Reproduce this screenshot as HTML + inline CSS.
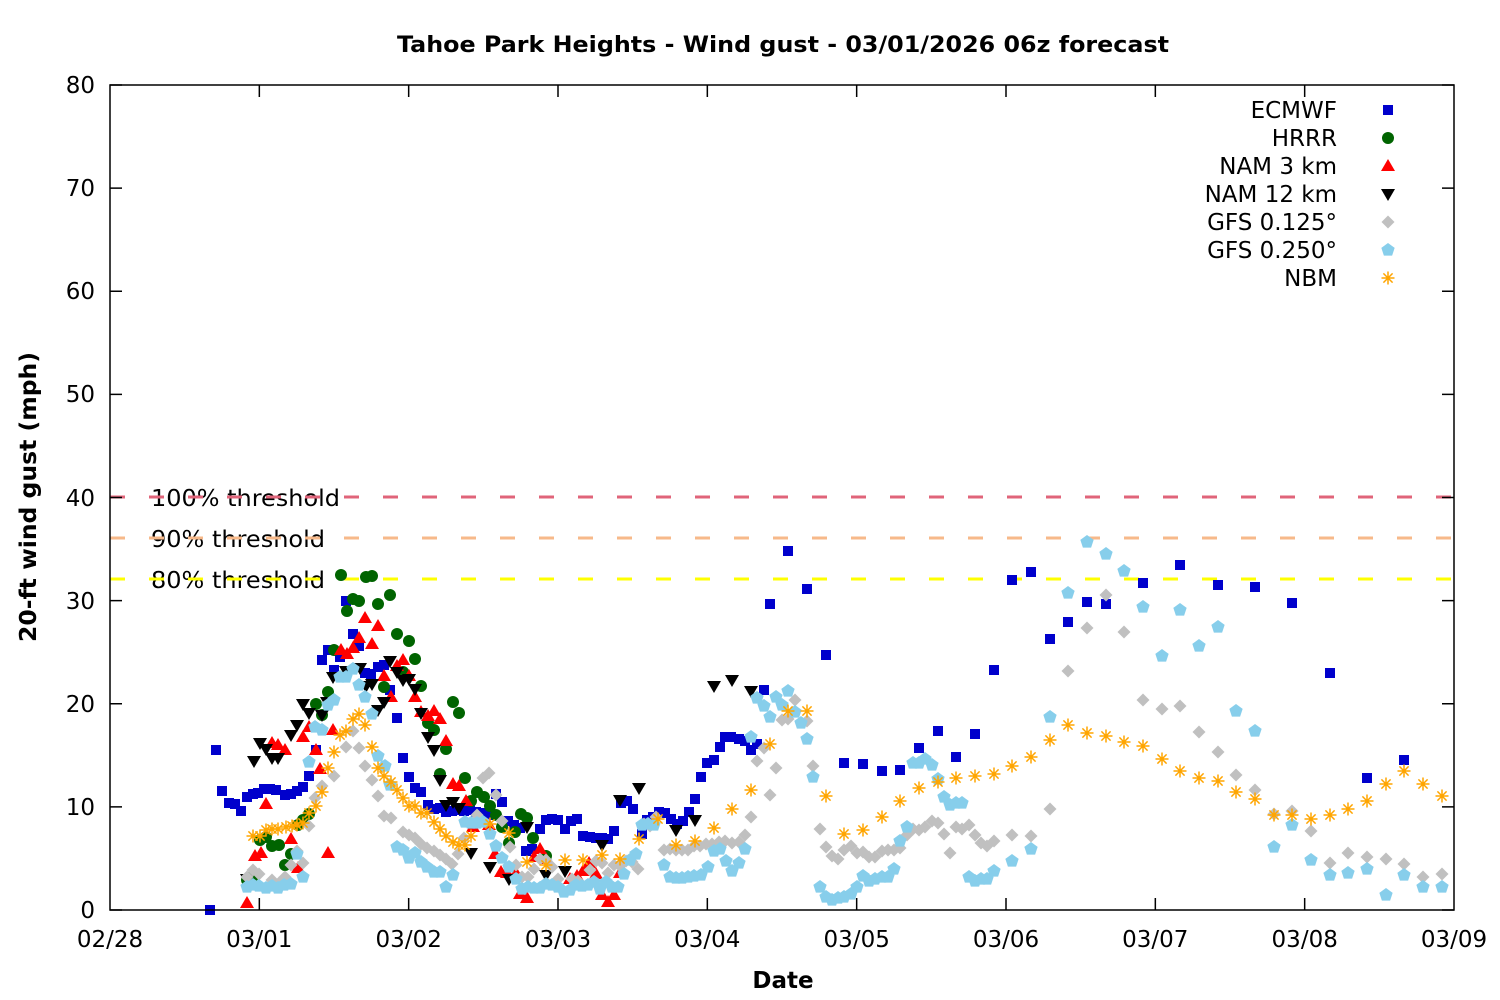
<!DOCTYPE html>
<html><head><meta charset="utf-8"><style>
html,body{margin:0;padding:0;background:#fff;}
svg{display:block;}
text{font-family:"DejaVu Sans","Liberation Sans",sans-serif;}
</style></head><body>
<svg id="c" width="1500" height="1000" viewBox="0 0 1500 1000" xmlns="http://www.w3.org/2000/svg">
<rect x="0" y="0" width="1500" height="1000" fill="#fff"/>
<text x="783" y="52" font-size="22" font-weight="bold" text-anchor="middle" textLength="772" lengthAdjust="spacingAndGlyphs">Tahoe Park Heights - Wind gust - 03/01/2026 06z forecast</text>
<text transform="translate(36,497) rotate(-90)" font-size="23" font-weight="bold" text-anchor="middle" textLength="290" lengthAdjust="spacingAndGlyphs">20-ft wind gust (mph)</text>
<text x="783" y="988" font-size="23" font-weight="bold" text-anchor="middle">Date</text>
<g font-size="23" text-anchor="end" fill="#000">
<text x="95" y="918">0</text>
<text x="95" y="815">10</text>
<text x="95" y="712">20</text>
<text x="95" y="609">30</text>
<text x="95" y="506">40</text>
<text x="95" y="402">50</text>
<text x="95" y="299">60</text>
<text x="95" y="196">70</text>
<text x="95" y="93">80</text>
</g>
<g font-size="23" text-anchor="middle" fill="#000">
<text x="110" y="947">02/28</text>
<text x="259.3" y="947">03/01</text>
<text x="408.7" y="947">03/02</text>
<text x="558" y="947">03/03</text>
<text x="707.3" y="947">03/04</text>
<text x="856.7" y="947">03/05</text>
<text x="1006" y="947">03/06</text>
<text x="1155.3" y="947">03/07</text>
<text x="1304.7" y="947">03/08</text>
<text x="1454" y="947">03/09</text>
</g>
<g font-size="23" fill="#000">
<text x="151" y="506" textLength="189" lengthAdjust="spacingAndGlyphs">100% threshold</text>
<text x="151" y="547" textLength="174" lengthAdjust="spacingAndGlyphs">90% threshold</text>
<text x="151" y="588" textLength="174" lengthAdjust="spacingAndGlyphs">80% threshold</text>
</g>
<g stroke-width="3" stroke-dasharray="15 24" fill="none">
<line x1="110" y1="497" x2="1454" y2="497" stroke="#e0647a"/>
<line x1="110" y1="538" x2="1454" y2="538" stroke="#f7b98a"/>
<line x1="110" y1="579" x2="1454" y2="579" stroke="#ffff00"/>
</g>
<g id="ticks" stroke="#000" stroke-width="1.5"></g>
<g id="pts"></g>
<rect x="110" y="85" width="1344" height="825" fill="none" stroke="#000" stroke-width="1.5"/>
<g font-size="23" text-anchor="end" fill="#000">
<text x="1337" y="118">ECMWF</text>
<text x="1337" y="146">HRRR</text>
<text x="1337" y="174">NAM 3 km</text>
<text x="1337" y="202">NAM 12 km</text>
<text x="1337" y="230">GFS 0.125°</text>
<text x="1337" y="258">GFS 0.250°</text>
<text x="1337" y="286">NBM</text>
</g>
<g id="leg"></g>
</svg>
<script>
(function(){
var t='';
for(var i=0;i<=8;i++){var y=910-i*103.125;t+='<line x1="110" y1="'+y+'" x2="122" y2="'+y+'"/><line x1="1442" y1="'+y+'" x2="1454" y2="'+y+'"/>';}
for(var d=1;d<=8;d++){var x=110+d*149.333;t+='<line x1="'+x+'" y1="910" x2="'+x+'" y2="898"/><line x1="'+x+'" y1="85" x2="'+x+'" y2="97"/>';}
document.getElementById('ticks').innerHTML=t;

function P(s){var a=s.trim().split(/\s+/),r=[];for(var i=0;i<a.length;i++){var p=a[i].split(',');r.push([+p[0],+p[1]]);}return r;}
function sq(x,y){return '<rect x="'+(x-5)+'" y="'+(y-5)+'" width="10" height="10"/>';}
function ci(x,y){return '<circle cx="'+x+'" cy="'+y+'" r="6"/>';}
function tu(x,y){return '<polygon points="'+x+','+(y-7)+' '+(x-7)+','+(y+5)+' '+(x+7)+','+(y+5)+'"/>';}
function td(x,y){return '<polygon points="'+x+','+(y+7)+' '+(x-7)+','+(y-5)+' '+(x+7)+','+(y-5)+'"/>';}
function di(x,y){return '<polygon points="'+x+','+(y-6.5)+' '+(x+6.5)+','+y+' '+x+','+(y+6.5)+' '+(x-6.5)+','+y+'"/>';}
function pe(x,y){var s='';for(var k=0;k<5;k++){var a=(-90+k*72)*Math.PI/180;s+=(x+7*Math.cos(a)).toFixed(2)+','+(y+7*Math.sin(a)).toFixed(2)+' ';}return '<polygon points="'+s+'"/>';}
function as(x,y){var r=6.5,q=4.6;return '<path d="M'+(x-r)+' '+y+'H'+(x+r)+'M'+x+' '+(y-r)+'V'+(y+r)+'M'+(x-q)+' '+(y-q)+'L'+(x+q)+' '+(y+q)+'M'+(x-q)+' '+(y+q)+'L'+(x+q)+' '+(y-q)+'"/>';}

var S=[
{f:sq,g:'fill="#0000cc"',d:"210,910 216,750 222,791 229,803 235,804 241,811 247,797 253,794 258,793 264,789 270,789 276,790 285,795 291,794 297,791 303,787 309,776 316,750 322,660 328,650 334,670 340,657 346,601 353,634 359,646 365,673 371,674 378,667 384,665 390,690 397,718 403,758 409,777 415,788 421,792 428,805 434,809 440,808 446,812 452,811 458,810 464,811 470,810 476,812 482,813 488,815 496,794 502,802 508,821 514,825 520,828 526,851 532,849 540,829 546,820 552,819 558,820 565,829 571,821 577,819 583,836 590,837 596,838 602,838 608,839 614,831 621,803 627,801 633,809 642,834 647,820 653,817 659,812 665,813 671,819 677,824 683,821 689,812 695,799 701,777 707,763 714,760 720,747 725,737 731,737 739,739 745,741 751,750 757,744 764,690 770,604 788,551 807,589 826,655 844,763 863,764 882,771 900,770 919,748 938,731 956,757 975,734 994,670 1012,580 1031,572 1050,639 1068,622 1087,602 1106,604 1143,583 1180,565 1218,585 1255,587 1292,603 1330,673 1367,778 1404,760"},
{f:ci,g:'fill="#006400"',d:"247,880 253,876 260,840 266,837 272,846 279,845 285,865 291,854 298,825 303,820 309,814 316,704 322,715 328,692 334,650 341,575 347,611 353,599 359,601 366,577 372,576 378,604 384,687 390,595 397,634 403,672 409,641 415,659 421,686 428,723 434,730 440,774 446,749 453,702 459,713 465,778 471,801 477,792 484,797 490,806 496,815 502,827 509,843 515,832 521,814 527,818 533,838 546,856"},
{f:tu,g:'fill="#ff0000"',d:"247,903 255,856 261,853 266,804 272,743 278,745 285,750 291,839 298,868 303,737 309,727 316,750 320,769 328,853 333,730 341,650 347,654 353,648 359,638 365,618 372,644 378,626 384,676 391,697 397,666 403,660 409,676 415,697 421,712 428,716 434,711 440,719 446,741 453,784 459,786 466,801 473,827 489,825 495,854 501,872 507,873 516,873 520,894 527,898 534,857 540,849 546,859 570,879 577,876 583,871 589,863 596,874 602,895 608,902 614,895 620,873"},
{f:td,g:'fill="#000000"',d:"247,879 254,761 260,743 266,749 272,758 278,758 291,735 297,725 303,704 309,713 322,715 327,702 333,677 346,671 360,668 366,686 372,684 378,710 384,702 390,661 397,672 403,680 409,679 415,689 421,713 428,737 434,750 440,780 446,805 453,802 459,808 471,853 490,867 509,879 527,827 546,875 565,871 602,845 620,800 639,788 676,830 695,820 714,686 732,680 751,691"},
{f:di,g:'fill="#c0c0c0"',d:"247,877 253,870 259,874 272,880 279,883 285,877 291,865 297,851 303,863 309,826 315,798 322,786 334,776 346,747 353,731 359,748 365,766 372,780 378,796 384,816 391,818 403,832 409,835 415,838 421,844 427,848 434,851 440,855 446,859 452,864 458,854 464,838 477,815 483,778 489,773 496,795 502,821 510,847 516,865 522,877 528,877 534,869 540,859 546,860 552,867 558,879 572,879 578,881 590,870 596,861 602,863 608,873 614,865 620,866 626,861 632,862 638,869 644,824 650,826 656,817 664,850 670,849 676,850 682,850 688,850 694,846 700,846 706,844 712,844 719,842 725,841 732,843 739,842 745,835 751,817 757,761 764,748 770,795 776,768 782,720 788,719 795,700 807,721 813,766 820,829 826,847 832,856 838,859 844,850 851,846 857,853 863,852 869,857 875,857 882,851 888,850 894,850 900,848 907,835 913,829 919,830 925,827 932,821 938,823 944,834 950,853 956,827 962,829 969,825 975,835 981,843 987,846 994,841 1012,835 1031,836 1050,809 1068,671 1087,628 1106,595 1124,632 1143,700 1162,709 1180,706 1199,732 1218,752 1236,775 1255,790 1274,814 1292,811 1311,831 1330,863 1348,853 1367,857 1386,859 1404,864 1423,877 1442,874"},
{f:pe,g:'fill="#87ceeb"',d:"247,887 253,885 259,886 266,888 272,886 278,888 284,885 291,884 297,854 303,877 309,762 315,727 322,730 328,705 334,700 340,677 346,677 353,669 359,685 365,697 372,714 378,756 385,766 390,785 397,847 403,850 409,858 415,853 421,862 427,867 434,872 440,872 446,887 453,875 465,822 471,823 477,823 483,822 490,834 496,846 502,858 509,867 516,879 522,889 528,887 534,888 540,888 546,884 552,885 558,887 564,892 570,890 576,885 582,886 588,885 594,882 600,889 606,882 612,887 618,887 624,874 630,860 636,854 642,825 648,824 654,825 664,865 670,877 676,878 682,878 688,877 694,876 701,875 708,867 714,851 720,849 726,861 732,871 739,863 745,849 751,737 757,698 764,706 770,717 776,697 782,705 788,691 795,712 801,723 807,739 813,777 820,887 826,897 832,900 838,898 844,897 851,894 857,887 863,876 869,881 875,879 882,877 888,877 894,869 900,841 907,827 913,763 919,763 925,759 932,765 938,779 944,797 950,805 956,803 962,803 969,877 975,881 981,879 987,879 994,871 1012,861 1031,849 1050,717 1068,593 1087,542 1106,554 1124,571 1143,607 1162,656 1180,610 1199,646 1218,627 1236,711 1255,731 1274,847 1292,825 1311,860 1330,875 1348,873 1367,869 1386,895 1404,875 1423,887 1442,887"},
{f:as,g:'fill="none" stroke="#ffa500" stroke-width="1.5"',d:"253,836 260,836 266,830 272,829 278,829 286,827 292,826 297,825 303,823 309,813 316,806 322,792 328,768 334,752 340,735 346,731 353,719 359,714 365,725 372,747 378,768 384,776 391,782 397,790 403,798 409,806 415,806 421,813 427,813 434,822 440,829 446,836 453,842 459,845 465,845 471,836 490,824 509,833 527,862 546,865 565,860 583,860 602,855 620,859 639,839 658,819 676,845 695,841 714,828 732,809 751,790 770,744 788,711 807,711 826,796 844,834 863,830 882,817 900,801 919,788 938,782 956,778 975,776 994,774 1012,766 1031,757 1050,740 1068,725 1087,733 1106,736 1124,742 1143,746 1162,759 1180,771 1199,778 1218,781 1236,792 1255,799 1274,815 1292,815 1311,819 1330,815 1348,809 1367,801 1386,784 1404,771 1423,784 1442,796"}
];
var out='',leg='';
for(var i=0;i<S.length;i++){
  var pts=P(S[i].d),s='<g '+S[i].g+'>';
  for(var j=0;j<pts.length;j++)s+=S[i].f(pts[j][0],pts[j][1]);
  s+='</g>';out+=s;
  leg+='<g '+S[i].g+'>'+S[i].f(1388,110+i*28)+'</g>';
}
document.getElementById('pts').innerHTML=out;
document.getElementById('leg').innerHTML=leg;
})();
</script>
</body></html>
